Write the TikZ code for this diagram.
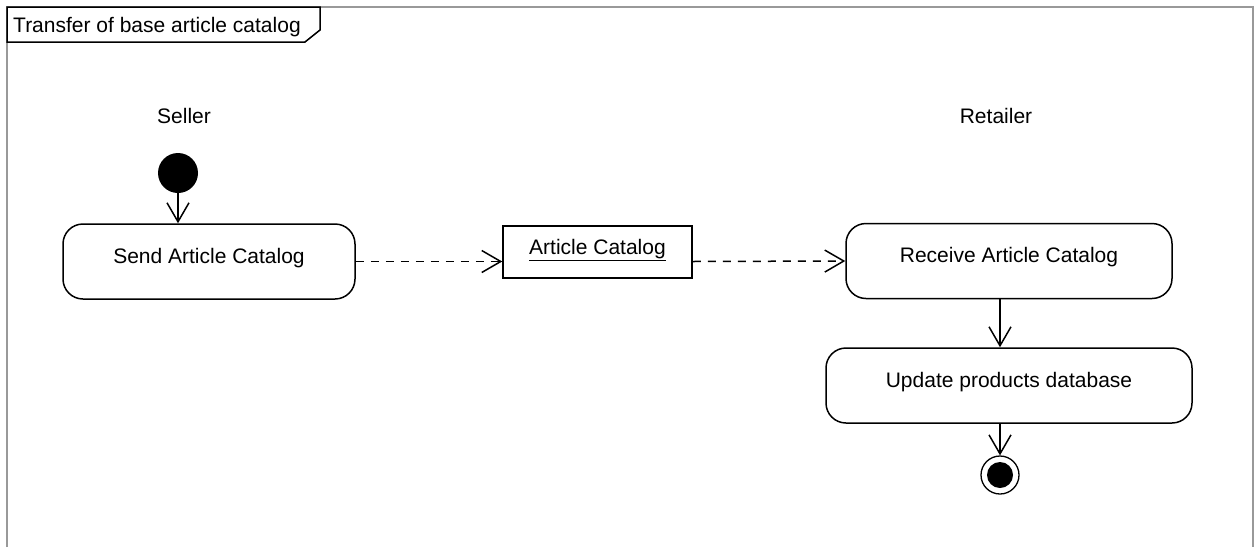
\documentclass[tikz,border=0pt]{standalone}
\usepackage{fontspec}
\setmainfont{Liberation Sans}
\usetikzlibrary{arrows.meta}
\begin{document}
\begin{tikzpicture}[x=1pt,y=-1pt,
  font=\fontsize{21}{24}\selectfont,
  action/.style={draw, line width=1.5pt, rounded corners=20pt, inner sep=0pt,
    minimum width=#1, minimum height=75pt, text height=15pt, text depth=12pt},
  objbox/.style={draw, line width=1.5pt, inner sep=0pt,
    minimum width=189pt, minimum height=52pt, text height=15pt, text depth=11pt},
  flow/.style={line width=1.5pt, -{Straight Barb[length=19pt,width=22pt,line width=1.5pt]}},
  objflow/.style={flow, dash pattern=on 8pt off 7pt},
  lane/.style={inner sep=0pt, anchor=base},
  framegray/.style={draw=black!40, line width=2pt}]
\useasboundingbox (0,0) rectangle (1254,547);

% diagram frame and its name tab
\draw[framegray] (6.5,547) -- (6.5,6.5) -- (1253,6.5) -- (1253,547);
\draw[line width=1.5pt, fill=white] (7,7) -- (320,7) -- (320,30) -- (305,42) -- (7,42) -- cycle;
\node[inner sep=0pt, anchor=base west] (title) at (13,32.5) {Transfer of base article catalog};

% partitions
\node[lane] (seller) at (184,123.5) {Seller};
\node[lane] (retailer) at (996,123.5) {Retailer};

% nodes
\node[circle, fill=black, inner sep=0pt, minimum size=40pt] (init) at (178,173) {};
\node[action=292pt] (send) at (209,261.5) {Send Article Catalog};
\node[objbox] (obj) at (597.5,252) {\underline{Article Catalog}};
\node[action=326pt] (recv) at (1009,261) {Receive Article Catalog};
\node[action=366pt] (upd) at (1009,385.5) {Update products database};
\node[circle, draw, line width=1.3pt, inner sep=0pt, minimum size=38pt] (fin) at (1000,475) {};
\node[circle, fill=black, inner sep=0pt, minimum size=26pt] (fincore) at (fin.center) {};

% control flows
\draw[flow] (init) -- (init |- send.north);
\draw[flow] (recv.south -| fin) -- (upd.north -| fin);
\draw[flow] (upd.south -| fin) -- (fin.north);

% object flows
\draw[objflow] (send.east) -- (send.east -| obj.west);
\draw[objflow] (obj.east |- send.east) -- (recv.west);
\end{tikzpicture}
\end{document}
